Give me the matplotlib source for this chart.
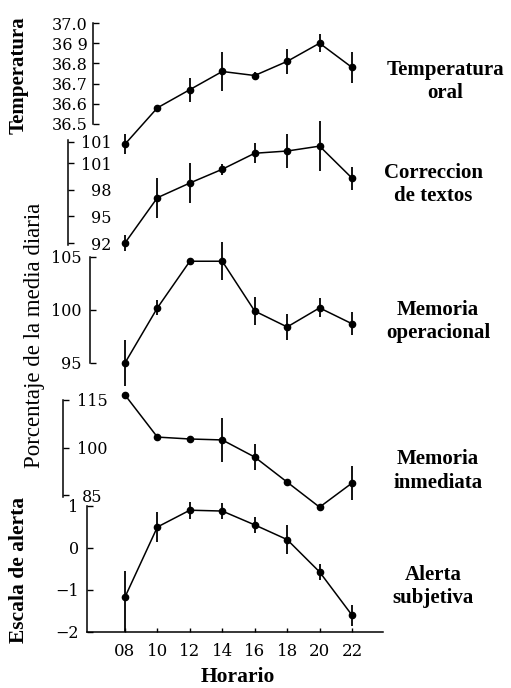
import numpy as np
import matplotlib.pyplot as plt

# horario (horas)
hours = [8, 10, 12, 14, 16, 18, 20, 22]
hour_labels = ["08", "10", "12", "14", "16", "18", "20", "22"]

# temperatura oral
temp = [36.40, 36.58, 36.67, 36.76, 36.74, 36.81, 36.90, 36.78]
temp_err = [0.05, 0.01, 0.06, 0.095, 0.015, 0.06, 0.045, 0.075]
temp_ticks = [36.5, 36.6, 36.7, 36.8, 36.9, 37.0]
temp_ticklabels = ["36.5", "36.6", "36.7", "36.8", "36 9", "37.0"]

# correccion de textos
corr = [92.0, 97.1, 98.75, 100.3, 102.1, 102.35, 102.9, 99.3]
corr_err = [0.9, 2.25, 2.3, 0.6, 1.1, 1.9, 2.8, 1.3]
corr_ticks = [92, 95, 98, 101, 103.4]
corr_ticklabels = ["92", "95", "98", "101", "101"]

# memoria operacional
mop = [95.0, 100.2, 104.6, 104.6, 99.9, 98.4, 100.2, 98.7]
mop_err = [2.2, 0.7, 0.3, 1.8, 1.3, 1.2, 0.9, 1.1]
mop_ticks = [95, 100, 105]

# memoria inmediata
minm = [116.6, 103.3, 102.7, 102.4, 97.0, 89.1, 81.2, 88.8]
minm_err = [0.5, 0.5, 0.5, 7.0, 4.0, 0.5, 0.5, 5.5]
minm_ticks = [85, 100, 115]

# alerta subjetiva
alert = [-1.17, 0.5, 0.9, 0.88, 0.55, 0.2, -0.57, -1.6]
alert_err_lo = [0.83, 0.35, 0.2, 0.2, 0.2, 0.35, 0.2, 0.25]
alert_err_hi = [0.62, 0.35, 0.2, 0.2, 0.2, 0.35, 0.2, 0.25]
alert_ticks = [-2, -1, 0, 1]

W, H = 511, 688
SERIF = "DejaVu Serif"
LAB = "Liberation Serif"

fig = plt.figure(figsize=(W / 100, H / 100), dpi=100)
fig.patch.set_facecolor("white")

X0, XW = 87, 296
XLIM = (5.66, 23.91)


def make_axes(top, bot, ylim, spine_x):
    ax = fig.add_axes([X0 / W, 1 - bot / H, XW / W, (bot - top) / H])
    ax.set_facecolor("none")
    ax.set_xlim(XLIM)
    ax.set_ylim(ylim)
    for s in ["top", "right", "bottom"]:
        ax.spines[s].set_visible(False)
    pos = ("axes", (spine_x - X0) / XW)
    ax.spines["left"].set_position(pos)
    ax.spines["right"].set_position(pos)  # labels a la derecha del eje
    ax.spines["left"].set_linewidth(1.1)
    ax.set_xticks([])
    ax.tick_params(axis="y", direction="in", length=4, width=1.0,
                   labelsize=11.5, right=False)
    return ax


def draw(ax, y, err):
    eb = ax.errorbar(hours, y, yerr=err, fmt="-o", color="black", lw=1.1,
                     ms=4.5, elinewidth=1.3, capsize=0)
    for art in eb.get_children():
        art.set_clip_on(False)


def style_labels(ax, family=SERIF):
    for lab in ax.get_yticklabels(which="both"):
        lab.set_family(family)
    for t in ax.yaxis.get_major_ticks():
        t.label2.set_family(family)


# Temperatura oral
ax1 = make_axes(23, 124, (36.5, 37.0), 93)
ax1.set_yticks(temp_ticks, temp_ticklabels)
ax1.tick_params(axis="y", pad=4)
style_labels(ax1)
draw(ax1, temp, temp_err)

# Correccion de textos
ax2 = make_axes(140, 245, (91.78, 103.59), 68)
ax2.set_yticks(corr_ticks, corr_ticklabels)
ax2.tick_params(axis="y", labelleft=False, labelright=True, pad=31.5)
for t in ax2.yaxis.get_major_ticks():
    t.label2.set_horizontalalignment("right")
style_labels(ax2)
draw(ax2, corr, corr_err)

# Memoria operacional
ax3 = make_axes(257, 363, (95, 105), 90)
ax3.set_yticks(mop_ticks)
ax3.tick_params(axis="y", pad=6)
style_labels(ax3)
draw(ax3, mop, mop_err)

# Memoria inmediata
ax4 = make_axes(400, 497, (84.4, 115), 63)
ax4.set_yticks(minm_ticks)
ax4.tick_params(axis="y", labelleft=False, labelright=True, pad=21)
for t in ax4.yaxis.get_major_ticks():
    t.label2.set_horizontalalignment("center")
style_labels(ax4)
draw(ax4, minm, minm_err)

# Alerta subjetiva
ax5 = make_axes(506, 632, (-2, 1), 87)
ax5.set_yticks(alert_ticks, ["\u22122", "\u22121", "0", "1"])
ax5.tick_params(axis="y", pad=6)
style_labels(ax5)
ax5.spines["bottom"].set_visible(True)
ax5.spines["bottom"].set_linewidth(1.1)
ax5.set_xticks(hours, hour_labels)
ax5.tick_params(axis="x", direction="in", length=3, width=1.0, pad=8,
                labelsize=12)
for lab in ax5.get_xticklabels():
    lab.set_family(SERIF)
eb = ax5.errorbar(hours, alert, yerr=[alert_err_lo, alert_err_hi], fmt="-o",
                  color="black", lw=1.1, ms=4.5, elinewidth=1.3, capsize=0)
for art in eb.get_children():
    art.set_clip_on(False)

# etiquetas de la derecha
right_labels = [
    ("Temperatura\noral", 445, 82),
    ("Correccion\nde textos", 433, 185),
    ("Memoria\noperacional", 438, 321),
    ("Memoria\ninmediata", 438, 471),
    ("Alerta\nsubjetiva", 433, 587),
]
for txt, x, y in right_labels:
    fig.text(x / W, 1 - y / H, txt, ha="center", va="center", family=LAB,
             fontweight="bold", fontsize=15, linespacing=1.2)

# etiquetas de los ejes
fig.text(19 / W, 1 - 75 / H, "Temperatura", rotation=90, ha="center",
         va="center", family=LAB, fontweight="bold", fontsize=15)
fig.text(35 / W, 1 - 335 / H, "Porcentaje de la media diaria", rotation=90,
         ha="center", va="center", family=LAB, fontsize=16.5)
fig.text(19 / W, 1 - 570 / H, "Escala de alerta", rotation=90, ha="center",
         va="center", family=LAB, fontweight="bold", fontsize=15.5)
fig.text(238 / W, 1 - 677 / H, "Horario", ha="center", va="center",
         family=LAB, fontweight="bold", fontsize=15.5)

fig.savefig("out.png", dpi=100)
